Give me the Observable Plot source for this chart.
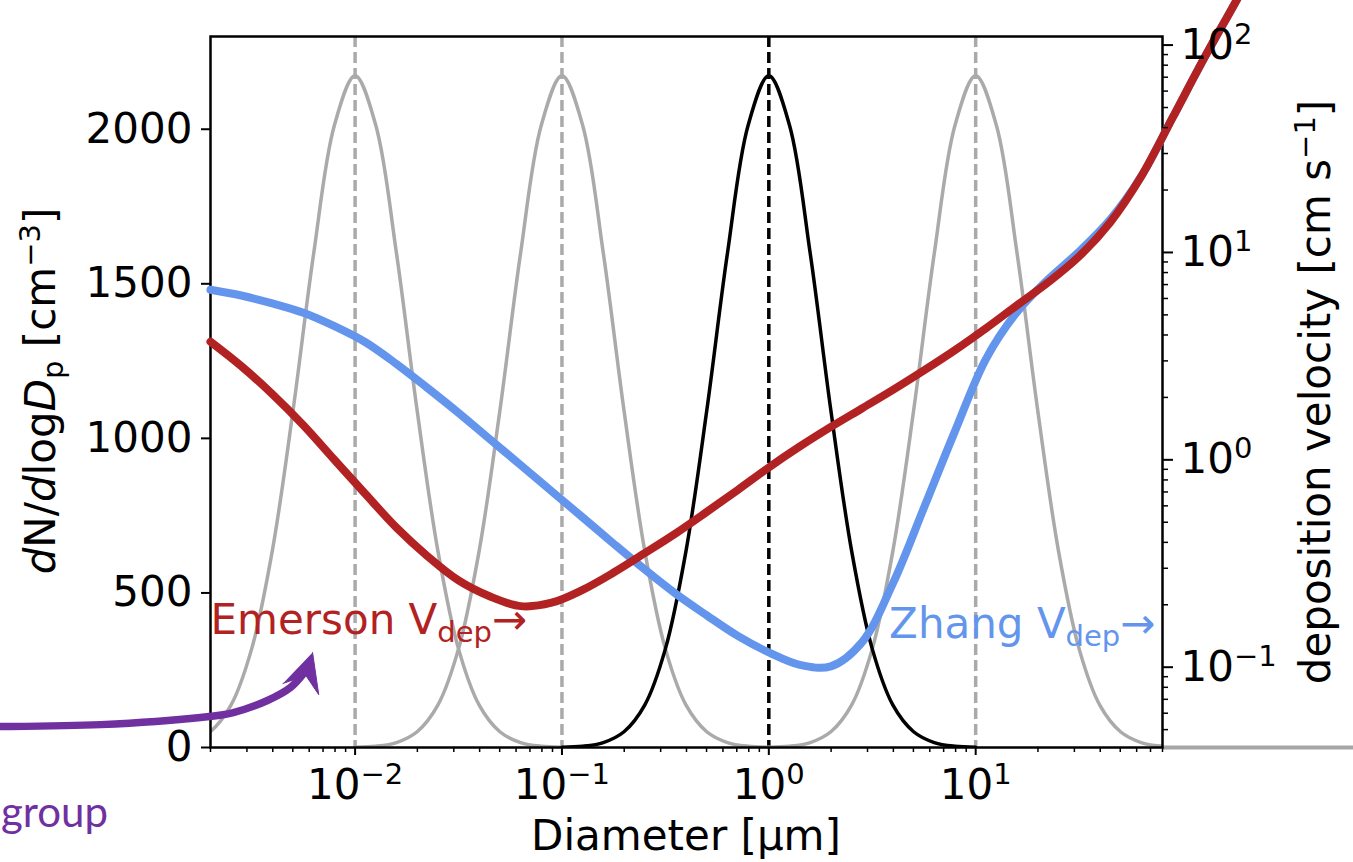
<!DOCTYPE html>
<html>
<head>
<meta charset="utf-8">
<script src="https://cdn.jsdelivr.net/npm/d3@7"></script>
<script src="https://cdn.jsdelivr.net/npm/@observablehq/plot@0.6"></script>
<style>
html, body { margin: 0; padding: 0; background: #fff; overflow: hidden; }
#chart { position: relative; width: 1353px; height: 862px; }
#chart svg { position: absolute; left: 0; top: 0; max-width: none; }
</style>
</head>
<body>
<div id="chart"></div>
<script>
// ---------- data ----------
// lognormal modes (centre diameters, µm); the highlighted one is drawn black
const modeCenters = [0.01, 0.1, 1, 10];
const highlightedMode = 1;
// shared mode profile: offset in decades from the centre -> dN/dlogDp
const profileOffset = [-1.0, -0.9, -0.8, -0.7, -0.6, -0.5, -0.4, -0.3, -0.2, -0.1, 0, 0.1, 0.2, 0.3, 0.4, 0.5, 0.6, 0.7, 0.8, 0.9, 1.0];
const profileValue  = [1, 4, 16, 51, 137, 319, 637, 1090, 1599, 2013, 2173, 2013, 1599, 1090, 637, 319, 137, 51, 16, 4, 1];

// deposition velocity curves (cm s-1), read at these diameters (µm)
const vdepDiameter = [0.002, 0.002818, 0.003981, 0.005623, 0.007943, 0.01122, 0.01585, 0.02239, 0.03162, 0.04467, 0.0631, 0.08913,
  0.1259, 0.1778, 0.2512, 0.3548, 0.5012, 0.7079, 1.0, 1.413, 1.995, 2.818, 3.981, 5.623, 7.943, 11.22, 15.85, 22.39, 31.62, 44.67,
  63.1, 89.13, 125.9, 177.8, 251.2];
const zhangVdep = [6.61, 6.20, 5.68, 5.12, 4.41, 3.69, 2.90, 2.22, 1.685, 1.26, 0.944, 0.706,
  0.528, 0.394, 0.296, 0.226, 0.1778, 0.1416, 0.1178, 0.1026, 0.1009, 0.1317, 0.2536, 0.587, 1.375, 3.07, 5.16, 7.41, 10.1, 14.4,
  23.25, 44.3, 84.8, 157, 292];
const emersonVdep = [3.71, 2.83, 2.074, 1.468, 1.001, 0.684, 0.471, 0.343, 0.262, 0.2197, 0.197, 0.2046,
  0.236, 0.286, 0.3546, 0.442, 0.561, 0.716, 0.919, 1.16, 1.441, 1.769, 2.173, 2.698, 3.38, 4.31, 5.57, 7.17, 9.57, 13.95,
  23.25, 44.3, 84.8, 157, 292];

// ticks
const countTicks = [0, 500, 1000, 1500, 2000];
const diameterTicks = [0.01, 0.1, 1, 10];
const diameterTickLabels = ["10^\u22122", "10^\u22121", "10^0", "10^1"];
const vdepTicks = [0.1, 1, 10, 100];
const vdepTickLabels = ["10^\u22121", "10^0", "10^1", "10^2"];
const minorMultipliers = [2, 3, 4, 5, 6, 7, 8, 9];
const diameterDecades = [0.001, 0.01, 0.1, 1, 10];
const vdepDecades = [0.01, 0.1, 1, 10];

// curve labels
const labelDiameter = [0.002, 74];
const labelVdep = [0.144, 0.139];
const labelText = ["Emerson V|dep|\u2192", "Zhang V|dep|\u2192"];

// purple slide annotation arrow (diameter, dN/dlogDp coordinates)
const arrowShaftD = [0.000155, 0.000194, 0.000589, 0.00179, 0.00258, 0.00377, 0.00487, 0.00569];
const arrowShaftN = [68, 68, 74, 97, 113, 152, 194, 243];
const arrowHeadD = [0.00623, 0.00667, 0.00578, 0.00448];
const arrowHeadN = [307, 171, 233, 207];

// ---------- layout ----------
const W = 1353, H = 862;
const margins = {marginLeft: 210, marginRight: 191, marginTop: 36, marginBottom: 115};
const xDomain = [0.002, 80];
const FS = 42;
const GRAY = "#aaaaaa", RED = "#b22222", BLUE = "#6495ed", PURPLE = "#7030a0";

const modeTable = modeCenters.flatMap(c => profileOffset.map((o, i) => ({mode: c, d: c * Math.pow(10, o), n: profileValue[i]})));
const zhang = vdepDiameter.map((d, i) => ({d, v: zhangVdep[i]}));
const emerson = vdepDiameter.map((d, i) => ({d, v: emersonVdep[i]}));
const xMinor = diameterDecades.flatMap(k => minorMultipliers.map(m => k * m)).filter(d => d >= xDomain[0] * 0.999 && d <= xDomain[1] * 1.001);
const yMinor = vdepDecades.flatMap(k => minorMultipliers.map(m => k * m)).filter(d => d >= 0.041 && d <= 110);
const labels = labelText.map((t, i) => ({d: labelDiameter[i], v: labelVdep[i], text: t}));
const shaft = arrowShaftD.map((d, i) => ({d, n: arrowShaftN[i]}));
const head = arrowHeadD.map((d, i) => ({d, n: arrowHeadN[i]}));

const base = Plot.plot({
  width: W, height: H, ...margins,
  style: {fontFamily: "DejaVu Sans", fontSize: FS + "px", color: "black", background: "white"},
  x: {type: "log", domain: xDomain, axis: null},
  y: {domain: [0, 2300], axis: null},
  marks: [
    Plot.ruleX(modeCenters.filter(c => c !== highlightedMode), {stroke: GRAY, strokeWidth: 3.5, strokeDasharray: "11,5"}),
    Plot.ruleX([highlightedMode], {stroke: "black", strokeWidth: 3.5, strokeDasharray: "11,5"}),
    Plot.line(modeTable.filter(r => r.mode !== highlightedMode), {x: "d", y: "n", z: "mode", stroke: GRAY, strokeWidth: 3.5, curve: "catmull-rom", clip: true}),
    Plot.line(modeTable.filter(r => r.mode === highlightedMode), {x: "d", y: "n", stroke: "black", strokeWidth: 3.5, curve: "catmull-rom", clip: true}),
    Plot.ruleY([0], {x1: xDomain[1], x2: 3000, stroke: "#a6a6a6", strokeWidth: 4}),
    Plot.frame({stroke: "black", strokeWidth: 2.5}),
    Plot.axisY({ticks: countTicks, tickSize: 9, tickPadding: 9, tickFormat: d => String(d), label: null, strokeWidth: 2, fontSize: FS}),
    Plot.axisX({ticks: xMinor, tickSize: 5, tickFormat: () => "", label: null, strokeWidth: 1.5}),
    Plot.axisX({ticks: diameterTicks, tickSize: 8, tickPadding: 14, tickFormat: d => diameterTickLabels[diameterTicks.indexOf(d)], label: null, strokeWidth: 2, fontSize: FS}),
    Plot.line(shaft, {x: "d", y: "n", stroke: PURPLE, strokeWidth: 7.5, curve: "catmull-rom"}),
    Plot.line(head, {x: "d", y: "n", fill: PURPLE, stroke: PURPLE, strokeWidth: 1})
  ]
});

const over = Plot.plot({
  width: W, height: H, ...margins,
  style: {fontFamily: "DejaVu Sans", fontSize: FS + "px", color: "black", background: "none"},
  x: {type: "log", domain: xDomain, axis: null},
  y: {type: "log", domain: [0.041, 110], axis: null},
  marks: [
    Plot.line(zhang, {x: "d", y: "v", stroke: BLUE, strokeWidth: 8, curve: "catmull-rom"}),
    Plot.line(emerson, {x: "d", y: "v", stroke: RED, strokeWidth: 8, curve: "catmull-rom"}),
    Plot.axisY({anchor: "right", ticks: yMinor, tickSize: 5, tickFormat: () => "", label: null, strokeWidth: 1.5}),
    Plot.axisY({anchor: "right", ticks: vdepTicks, tickSize: 10, tickPadding: 8, tickFormat: d => vdepTickLabels[vdepTicks.indexOf(d)], label: null, strokeWidth: 2, fontSize: FS}),
    Plot.text(labels.slice(0, 1), {x: "d", y: "v", text: "text", textAnchor: "start", lineAnchor: "bottom", fill: RED, fontSize: FS}),
    Plot.text(labels.slice(1, 2), {x: "d", y: "v", text: "text", textAnchor: "end", lineAnchor: "bottom", fill: BLUE, fontSize: FS})
  ]
});

// ---------- rich text post-processing ----------
function richText(svg) {
  d3.select(svg).selectAll("text").each(function () {
    const t = this.textContent;
    const s = d3.select(this);
    let m = /^(.*)\^(.+)$/.exec(t);
    if (m) {
      s.text(m[1]);
      s.append("tspan").attr("dy", -15).attr("font-size", 29).text(m[2]);
      return;
    }
    if (t.includes("|")) {
      const [a, b, c] = t.split("|");
      s.text(a);
      s.append("tspan").attr("dy", 8).attr("font-size", 29).text(b);
      s.append("tspan").attr("dy", -8).text(c);
    }
  });
}
richText(base);
richText(over);

// axis titles
const sb = d3.select(base);
const yl = sb.append("text").attr("transform", "translate(55,391) rotate(-90)").attr("text-anchor", "middle").attr("font-size", FS).attr("fill", "black");
yl.append("tspan").attr("font-style", "italic").text("d");
yl.append("tspan").text("N/");
yl.append("tspan").attr("font-style", "italic").text("d");
yl.append("tspan").text("log");
yl.append("tspan").attr("font-style", "italic").text("D");
yl.append("tspan").attr("font-size", 29).attr("dy", 8).text("p");
yl.append("tspan").attr("dy", -8).text(" [cm");
yl.append("tspan").attr("font-size", 29).attr("dy", -15).text("\u22123");
yl.append("tspan").attr("dy", 15).text("]");

sb.append("text").attr("x", 686).attr("y", 850).attr("text-anchor", "middle").attr("font-size", FS).attr("fill", "black").text("Diameter [\u00b5m]");

sb.append("text").attr("x", 108).attr("y", 827).attr("text-anchor", "end").attr("font-family", "Lato").attr("font-size", 42).attr("fill", PURPLE).text("group");

const so = d3.select(over);
const rl = so.append("text").attr("transform", "translate(1330,392) rotate(-90)").attr("text-anchor", "middle").attr("font-size", FS).attr("fill", "black");
rl.append("tspan").text("deposition velocity [cm s");
rl.append("tspan").attr("font-size", 29).attr("dy", -15).text("\u22121");
rl.append("tspan").attr("dy", 15).text("]");

const chart = document.getElementById("chart");
chart.appendChild(base);
chart.appendChild(over);
</script>
</body>
</html>
